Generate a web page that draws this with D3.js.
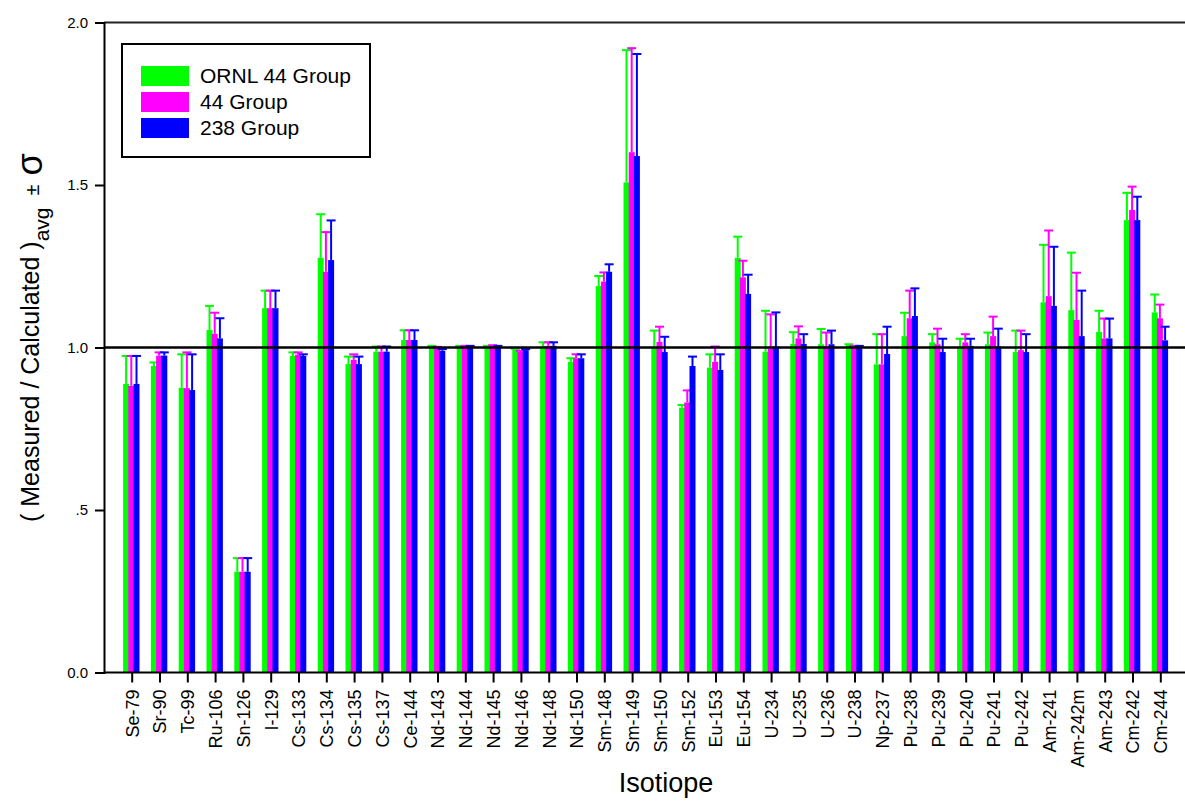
<!DOCTYPE html>
<html>
<head>
<meta charset="utf-8">
<script src="https://cdn.jsdelivr.net/npm/d3@7"></script>
<style>
  html, body { margin: 0; padding: 0; background: #fff; }
  svg { display: block; font-family: Arial, "Liberation Sans", sans-serif; }
</style>
</head>
<body>
<svg id="chart" width="1185" height="801"></svg>
<script>
const categories = ["Se-79","Sr-90","Tc-99","Ru-106","Sn-126","I-129","Cs-133","Cs-134","Cs-135","Cs-137",
  "Ce-144","Nd-143","Nd-144","Nd-145","Nd-146","Nd-148","Nd-150","Sm-148","Sm-149","Sm-150",
  "Sm-152","Eu-153","Eu-154","U-234","U-235","U-236","U-238","Np-237","Pu-238","Pu-239",
  "Pu-240","Pu-241","Pu-242","Am-241","Am-242m","Am-243","Cm-242","Cm-244"];

const seriesNames = ["ORNL 44 Group", "44 Group", "238 Group"];
const seriesColors = ["#00ff00", "#ff00ff", "#0000ff"];

const ornl44 = [0.888,0.943,0.876,1.054,0.310,1.121,0.974,1.276,0.949,0.987,
  1.023,1.003,1.003,1.003,0.994,1.003,0.956,1.189,1.508,1.003,
  0.815,0.938,1.276,0.987,1.011,1.010,1.008,0.948,1.035,1.016,
  1.003,1.010,0.986,1.139,1.115,1.048,1.392,1.108];
const ornl44Sigma = [0.086,0.011,0.103,0.074,0.042,0.054,0.011,0.134,0.023,0.016,
  0.030,0.002,0.002,0.002,0.002,0.013,0.011,0.031,0.407,0.049,
  0.008,0.041,0.065,0.126,0.036,0.047,0.002,0.093,0.072,0.025,
  0.024,0.036,0.066,0.177,0.177,0.065,0.084,0.055];

const g44 = [0.882,0.975,0.875,1.042,0.310,1.121,0.978,1.233,0.962,0.987,
  1.023,0.998,1.003,1.005,0.987,1.005,0.967,1.203,1.601,1.017,
  0.831,0.956,1.216,0.997,1.028,1.003,1.003,0.948,1.090,1.010,
  1.016,1.035,0.992,1.158,1.085,1.028,1.423,1.090];
const g44Sigma = [0.092,0.010,0.110,0.065,0.042,0.054,0.007,0.122,0.017,0.016,
  0.030,0.004,0.002,0.002,0.003,0.011,0.012,0.028,0.320,0.047,
  0.037,0.047,0.051,0.105,0.037,0.043,0.002,0.093,0.085,0.048,
  0.025,0.060,0.060,0.202,0.145,0.061,0.072,0.042];

const g238 = [0.888,0.975,0.869,1.028,0.310,1.121,0.974,1.269,0.949,0.987,
  1.023,0.990,1.003,1.003,0.992,1.005,0.967,1.233,1.589,0.986,
  0.943,0.931,1.165,1.003,1.011,1.010,1.003,0.980,1.097,0.986,
  1.005,1.003,0.986,1.128,1.035,1.028,1.392,1.022];
const g238Sigma = [0.086,0.010,0.110,0.062,0.042,0.054,0.005,0.122,0.023,0.016,
  0.030,0.005,0.002,0.002,0.003,0.011,0.012,0.023,0.314,0.047,
  0.029,0.048,0.059,0.105,0.030,0.042,0.002,0.084,0.085,0.041,
  0.022,0.055,0.055,0.182,0.140,0.061,0.072,0.042];

const yTicks = [0, 0.5, 1.0, 1.5, 2.0];
const yTickLabels = ["0.0", ".5", "1.0", "1.5", "2.0"];

const seriesValues = [ornl44, g44, g238];
const seriesSigmas = [ornl44Sigma, g44Sigma, g238Sigma];

const svg = d3.select("#chart");
const plotLeft = 104, plotRight = 1188, plotTop = 22.5, plotBottom = 672.5;

const x = d3.scalePoint().domain(categories).range([131.7, 1160.3]);
const y = d3.scaleLinear().domain([0, 2]).range([plotBottom, plotTop]);
const barOffsets = [-5.6, -0.4, 4.8];
const barW = 6;

// bars + error bars
seriesValues.forEach((vals, s) => {
  const g = svg.append("g");
  const col = seriesColors[s];
  categories.forEach((c, i) => {
    const cx = x(c) + barOffsets[s];
    g.append("rect")
      .attr("x", cx - barW / 2)
      .attr("y", y(vals[i]))
      .attr("width", barW)
      .attr("height", y(0) - y(vals[i]))
      .attr("fill", col);
  });
  categories.forEach((c, i) => {
    const cx = x(c) + barOffsets[s];
    const yt = y(vals[i] + seriesSigmas[s][i]);
    g.append("line")
      .attr("x1", cx).attr("x2", cx)
      .attr("y1", y(vals[i])).attr("y2", yt)
      .attr("stroke", col).attr("stroke-width", 2);
    g.append("line")
      .attr("x1", cx - 4.5).attr("x2", cx + 4.5)
      .attr("y1", yt).attr("y2", yt)
      .attr("stroke", col).attr("stroke-width", 2);
  });
});

// reference line at 1.0
svg.append("line")
  .attr("x1", plotLeft).attr("x2", plotRight)
  .attr("y1", y(1)).attr("y2", y(1))
  .attr("stroke", "#000").attr("stroke-width", 2.5);

// frame top
svg.append("line")
  .attr("x1", plotLeft).attr("x2", plotRight)
  .attr("y1", plotTop).attr("y2", plotTop)
  .attr("stroke", "#222").attr("stroke-width", 2);

// y axis
const yAxis = d3.axisLeft(y)
  .tickValues(yTicks)
  .tickFormat((d, i) => yTickLabels[i])
  .tickSize(9).tickPadding(7);
const gy = svg.append("g").attr("transform", `translate(${plotLeft},0)`).call(yAxis);
gy.select(".domain").attr("stroke", "#000").attr("stroke-width", 2);
gy.selectAll(".tick line").attr("stroke", "#000").attr("stroke-width", 2);
gy.selectAll(".tick text").attr("font-size", 15).attr("fill", "#000")
  .attr("font-family", "Arial, 'Liberation Sans', sans-serif");

// x axis
const xAxis = d3.axisBottom(x).tickSize(10).tickSizeOuter(0);
const gx = svg.append("g").attr("transform", `translate(0,${plotBottom})`).call(xAxis);
gx.select(".domain").attr("d", `M${plotLeft},0H${plotRight}`).attr("stroke", "#000").attr("stroke-width", 2);
gx.selectAll(".tick line").attr("stroke", "#000").attr("stroke-width", 2);
gx.selectAll(".tick text")
  .attr("font-size", 18).attr("fill", "#000")
  .attr("font-family", "Arial, 'Liberation Sans', sans-serif")
  .attr("transform", "rotate(-90)")
  .attr("text-anchor", "end")
  .attr("x", -17).attr("y", 0).attr("dy", "0.36em");

// x title
svg.append("text")
  .attr("x", 666).attr("y", 792)
  .attr("text-anchor", "middle")
  .attr("font-size", 27).attr("fill", "#000")
  .text("Isotiope");

// y title
const ytitle = svg.append("text")
  .attr("transform", "translate(39,522) rotate(-90)")
  .attr("font-size", 25).attr("fill", "#000");
ytitle.append("tspan").text("( Measured / Calculated )");
ytitle.append("tspan").attr("font-size", 21).attr("dy", 10).text("avg");
ytitle.append("tspan").attr("font-size", 20).attr("dx", 12).attr("dy", -10).text("\u00b1");
ytitle.append("tspan").attr("font-size", 36).attr("dx", 9).attr("dy", 3).text("\u03c3");

// legend
const lg = svg.append("g");
lg.append("rect").attr("x", 122).attr("y", 44).attr("width", 248).attr("height", 113)
  .attr("fill", "#fff").attr("stroke", "#000").attr("stroke-width", 2);
seriesNames.forEach((n, i) => {
  lg.append("rect").attr("x", 141).attr("y", 66 + i * 26).attr("width", 48).attr("height", 20)
    .attr("fill", seriesColors[i]);
  lg.append("text").attr("x", 200).attr("y", 83 + i * 26)
    .attr("font-size", 21).attr("fill", "#000").text(n);
});
</script>
</body>
</html>
